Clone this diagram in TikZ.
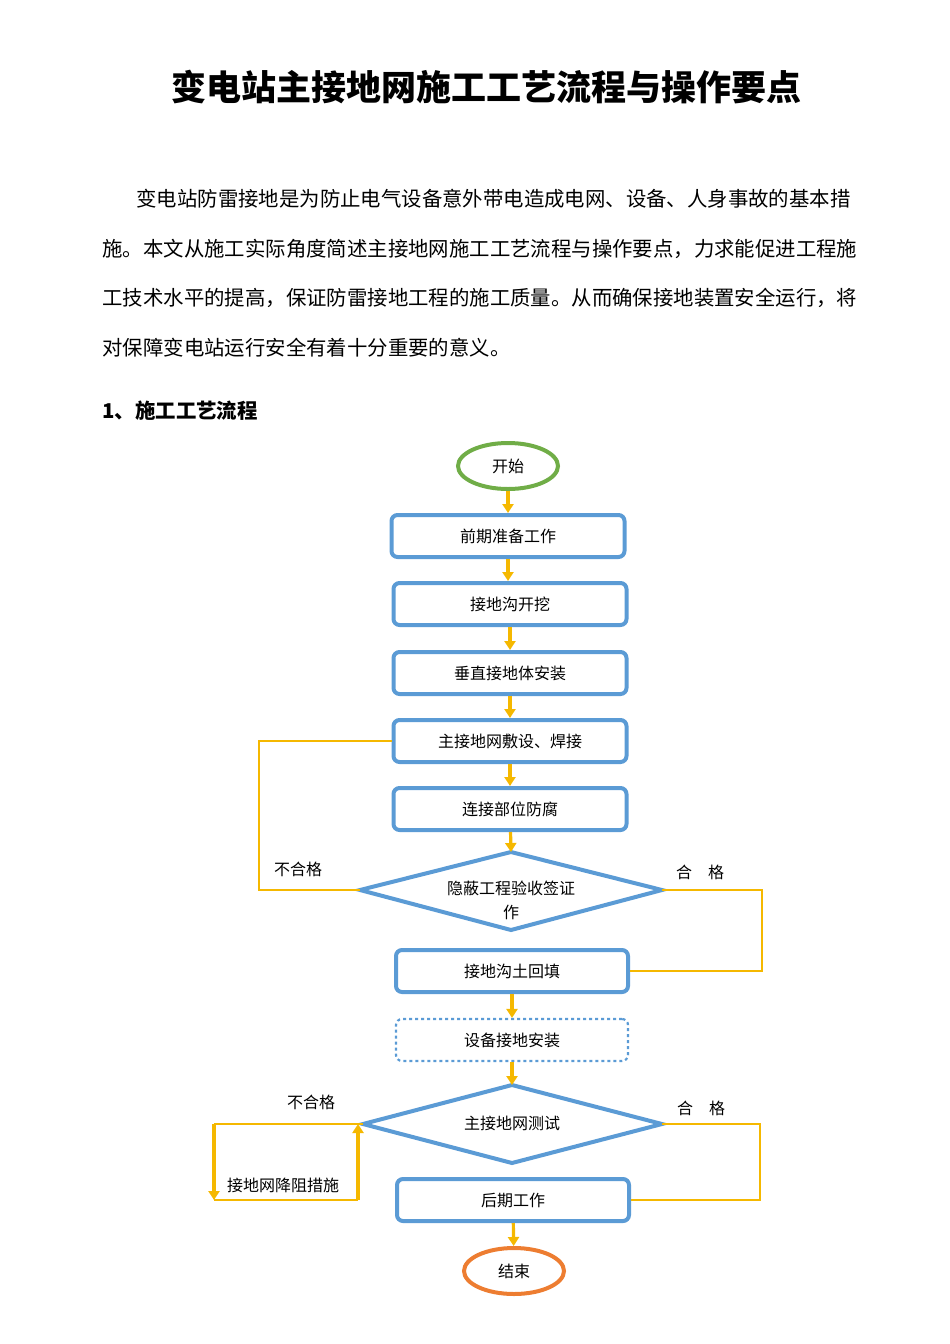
\documentclass[tikz,border=0pt]{standalone}
\usepackage{fontspec}
\setmainfont{Noto Sans CJK SC}
\usetikzlibrary{shapes.geometric,arrows.meta}
\definecolor{bb}{HTML}{5B9BD5}
\definecolor{yy}{HTML}{F5B800}
\definecolor{gg}{HTML}{70AD47}
\definecolor{oo}{HTML}{ED7D31}
\tikzset{
 bx/.style={draw=bb,line width=4pt,rounded corners=6pt,minimum height=42pt,inner sep=0pt,font=\fontsize{16}{16}\selectfont},
 dml/.style={draw=bb,line width=4pt,line join=miter},
 ar/.style={draw=yy,line width=3.2pt,-{Triangle[length=9pt,width=11pt]}},
 ln/.style={draw=yy,line width=2.8pt},
 lb/.style={font=\fontsize{16}{16}\selectfont},
 pl/.style={anchor=west,font=\fontsize{20.4}{20}\selectfont}
}
\begin{document}
\begin{tikzpicture}[x=1pt,y=-1pt]
\useasboundingbox (0,0) rectangle (950,1344);
\node (title) at (486,87) {\fontsize{35}{35}\selectfont\bfseries 变电站主接地网施工工艺流程与操作要点};
\node[pl] (p1) at (133,199) {变电站防雷接地是为防止电气设备意外带电造成电网、设备、人身事故的基本措};
\node[pl] (p2) at (99,249) {施。本文从施工实际角度简述主接地网施工工艺流程与操作要点，力求能促进工程施};
\node[pl] (p3) at (99,298) {工技术水平的提高，保证防雷接地工程的施工质量。从而确保接地装置安全运行，将};
\node[pl] (p4) at (99,348) {对保障变电站运行安全有着十分重要的意义。};
\node[pl] (h1) at (99,411) {\bfseries 1、施工工艺流程};
\node[draw=gg,line width=4pt,ellipse,minimum width=100pt,minimum height=46pt,lb] (s) at (508,466) {开始};
\node[bx,minimum width=233pt] (b1) at (508,536) {前期准备工作};
\node[bx,minimum width=233pt] (b2) at (510,604) {接地沟开挖};
\node[bx,minimum width=233pt] (b3) at (510,673) {垂直接地体安装};
\node[bx,minimum width=233pt] (b4) at (510,741) {主接地网敷设、焊接};
\node[bx,minimum width=233pt] (b5) at (510,809) {连接部位防腐};
\coordinate (d1n) at (511,852); \coordinate (d1s) at (511,930);
\coordinate (d1w) at (360,890); \coordinate (d1e) at (662,890);
\draw[dml] (d1n) -- (d1e) -- (d1s) -- (d1w) -- cycle;
\node[lb,align=center,font=\fontsize{16}{24}\selectfont] (d1t) at (511,900) {隐蔽工程验收签证\\作};
\node[bx,minimum width=232pt] (b6) at (512,971) {接地沟土回填};
\node[bx,dashed,line width=2.2pt,minimum width=232pt] (b7) at (512,1040) {设备接地安装};
\coordinate (d2n) at (512,1085); \coordinate (d2s) at (512,1163);
\coordinate (d2w) at (363,1124); \coordinate (d2e) at (662,1124);
\draw[dml] (d2n) -- (d2e) -- (d2s) -- (d2w) -- cycle;
\node[lb] (d2t) at (512,1123) {主接地网测试};
\node[bx,minimum width=232pt] (b8) at (513,1200) {后期工作};
\node[draw=oo,line width=4pt,ellipse,minimum width=100pt,minimum height=46pt,lb] (e) at (514,1271) {结束};
\draw[ar] (s) -- (b1.north);
\draw[ar] (b1.south) -- (b1.south|-b2.north);
\draw[ar] (b2) -- (b3);
\draw[ar] (b3) -- (b4);
\draw[ar] (b4) -- (b5);
\draw[ar] (b5) -- (d1n);
\draw[ar] (b6) -- (b7);
\draw[ar] (b7) -- (d2n);
\draw[ar] (b8) -- (e);
\draw[ln] (d1w) -| (259,741) -- (b4.west);
\draw[ln] (d1e) -| (762,971) -- (b6.east);
\draw[ln] (d2e) -| (760,1200) -- (b8.east);
\coordinate (c1) at (214,1124);
\coordinate (c2) at (214,1200);
\coordinate (c3) at (358,1124);
\draw[ln] (d2w) -- (c1);
\draw[ar] (c1) -- (c2);
\draw[ln] (c2) -- (358,1200);
\draw[ar] (358,1200) -- (c3);
\node[lb] (ng1) at (298,869) {不合格};
\node[lb] (ok1) at (700,872) {合\quad 格};
\node[lb] (ng2) at (311,1102) {不合格};
\node[lb] (ok2) at (701,1108) {合\quad 格};
\node[lb] (fix) at (283,1185) {接地网降阻措施};
\end{tikzpicture}
\end{document}
